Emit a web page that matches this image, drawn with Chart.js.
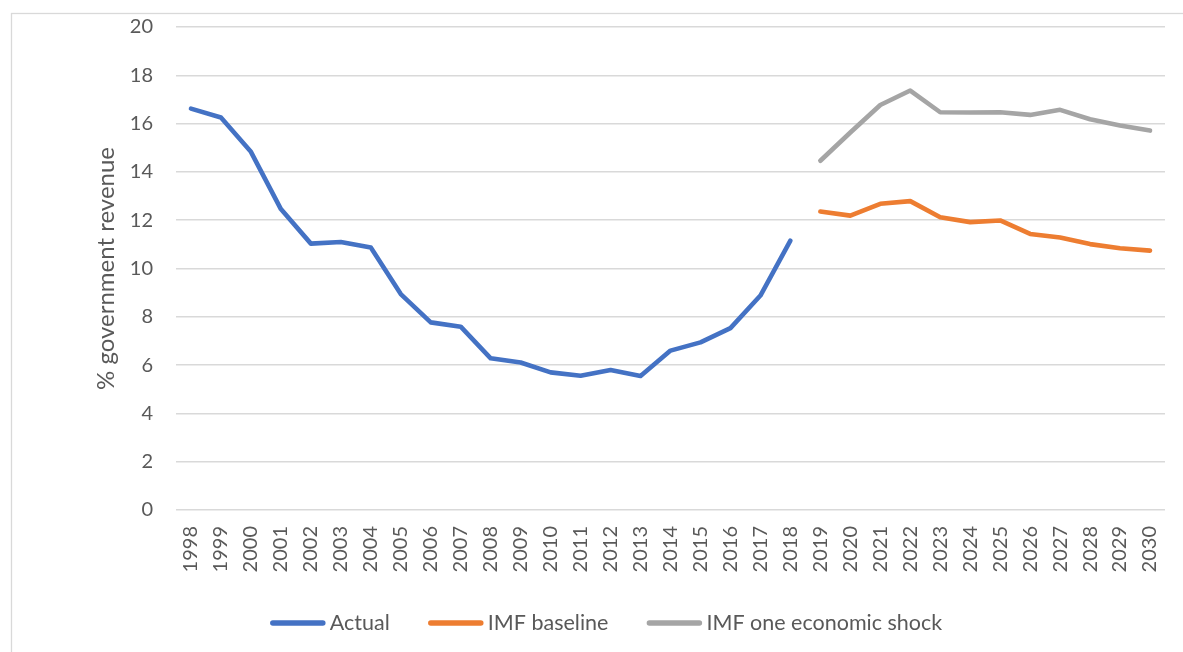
<!DOCTYPE html>
<html>
<head>
<meta charset="utf-8">
<title>Government revenue share</title>
<script src="https://cdn.jsdelivr.net/npm/chart.js@4/dist/chart.umd.min.js"></script>
<style>
  html, body { margin: 0; padding: 0; background: #ffffff; }
  #wrap { width: 1183px; height: 652px; position: relative; }
</style>
</head>
<body>
<div id="wrap"><canvas id="chart" width="1183" height="652"></canvas></div>
<script>
// Years on the category axis
const years = ['1998','1999','2000','2001','2002','2003','2004','2005','2006','2007','2008',
  '2009','2010','2011','2012','2013','2014','2015','2016','2017','2018','2019','2020',
  '2021','2022','2023','2024','2025','2026','2027','2028','2029','2030'];

// Observed values, 1998-2018
const actual = [16.62, 16.25, 14.83, 12.46, 11.03, 11.10, 10.87, 8.94, 7.77, 7.59, 6.28,
  6.11, 5.70, 5.56, 5.80, 5.55, 6.60, 6.94, 7.53, 8.88, 11.15];

// Projections, 2019-2030
const imfBaseline = [12.36, 12.19, 12.68, 12.79, 12.12, 11.92, 11.99, 11.43, 11.28, 11.01, 10.84, 10.74];
const imfShock = [14.46, 15.63, 16.77, 17.37, 16.47, 16.46, 16.47, 16.36, 16.57, 16.18, 15.92, 15.71];

// Y axis ticks
const yTicks = [0, 2, 4, 6, 8, 10, 12, 14, 16, 18, 20];

const seriesNames = ['Actual', 'IMF baseline', 'IMF one economic shock'];
const seriesColors = ['#4472C4', '#ED7D31', '#A5A5A5'];

// Pad each series to the full year range
const nActual = actual.length;
const actualFull = years.map((_, i) => i < nActual ? actual[i] : null);
const baselineFull = years.map((_, i) => i >= nActual ? imfBaseline[i - nActual] : null);
const shockFull = years.map((_, i) => i >= nActual ? imfShock[i - nActual] : null);

const FONT = 'Lato, "Open Sans", sans-serif';
const TEXT = '#595959';

// Light frame around the chart
const framePlugin = {
  id: 'frame',
  beforeDraw(chart) {
    const ctx = chart.ctx;
    ctx.save();
    ctx.fillStyle = '#ffffff';
    ctx.fillRect(0, 0, chart.width, chart.height);
    ctx.strokeStyle = '#d9d9d9';
    ctx.lineWidth = 1.3;
    ctx.strokeRect(11.5, 13.5, chart.width + 20, chart.height + 20);
    ctx.restore();
  }
};

// Legend row beneath the axis: line swatch followed by series name
const legendRow = {
  id: 'legendRow',
  afterDraw(chart) {
    const ctx = chart.ctx;
    const swatch = 56, gapText = 4, gapItem = 38;
    const cx = 606, cy = 623;
    ctx.save();
    ctx.font = '21.5px ' + FONT;
    const items = chart.data.datasets.map(ds => ({
      label: ds.label, color: ds.borderColor, w: ctx.measureText(ds.label).width
    }));
    let total = 0;
    items.forEach((it, i) => { total += swatch + gapText + it.w + (i < items.length - 1 ? gapItem : 0); });
    let x = cx - total / 2;
    items.forEach(it => {
      ctx.strokeStyle = it.color;
      ctx.lineWidth = 5.5;
      ctx.lineCap = 'round';
      ctx.beginPath();
      ctx.moveTo(x + 3, cy);
      ctx.lineTo(x + swatch - 3, cy);
      ctx.stroke();
      ctx.fillStyle = TEXT;
      ctx.textBaseline = 'middle';
      ctx.textAlign = 'left';
      ctx.fillText(it.label, x + swatch + gapText, cy);
      x += swatch + gapText + it.w + gapItem;
    });
    ctx.restore();
  }
};

const mkSet = (label, data, color) => ({
  label, data,
  borderColor: color,
  backgroundColor: color,
  borderWidth: 4.6,
  borderCapStyle: 'round',
  borderJoinStyle: 'round',
  pointRadius: 0,
  pointHoverRadius: 0,
  tension: 0,
  spanGaps: false,
  fill: false
});

new Chart(document.getElementById('chart'), {
  type: 'line',
  data: {
    labels: years,
    datasets: [
      mkSet(seriesNames[0], actualFull, seriesColors[0]),
      mkSet(seriesNames[1], baselineFull, seriesColors[1]),
      mkSet(seriesNames[2], shockFull, seriesColors[2])
    ]
  },
  options: {
    responsive: false,
    animation: false,
    devicePixelRatio: 1,
    layout: { padding: { left: 92, right: 18, top: 27, bottom: 67 } },
    plugins: {
      legend: { display: false },
      tooltip: { enabled: false }
    },
    scales: {
      x: {
        offset: true,
        grid: { display: false, drawTicks: false },
        border: { display: false },
        ticks: {
          color: TEXT,
          font: { family: FONT, size: 20 },
          minRotation: 90,
          maxRotation: 90,
          autoSkip: false,
          padding: 16
        },
        afterFit(scale) {
          scale.height = 75;
          scale.paddingLeft = 0;
          scale.paddingRight = 0;
        }
      },
      y: {
        min: 0,
        max: 20,
        afterBuildTicks(scale) { scale.ticks = yTicks.map(v => ({ value: v })); },
        grid: { color: '#d9d9d9', lineWidth: 1.5, drawTicks: false },
        border: { display: false },
        ticks: {
          color: TEXT,
          font: { family: FONT, size: 20 },
          padding: 23
        },
        title: {
          display: true,
          text: '% government revenue',
          color: TEXT,
          font: { family: FONT, size: 24 },
          padding: { top: 0, bottom: 0 }
        },
        afterFit(scale) {
          scale.width = 84;
          scale.paddingTop = 0;
          scale.paddingBottom = 0;
        }
      }
    }
  },
  plugins: [framePlugin, legendRow]
});
</script>
</body>
</html>
